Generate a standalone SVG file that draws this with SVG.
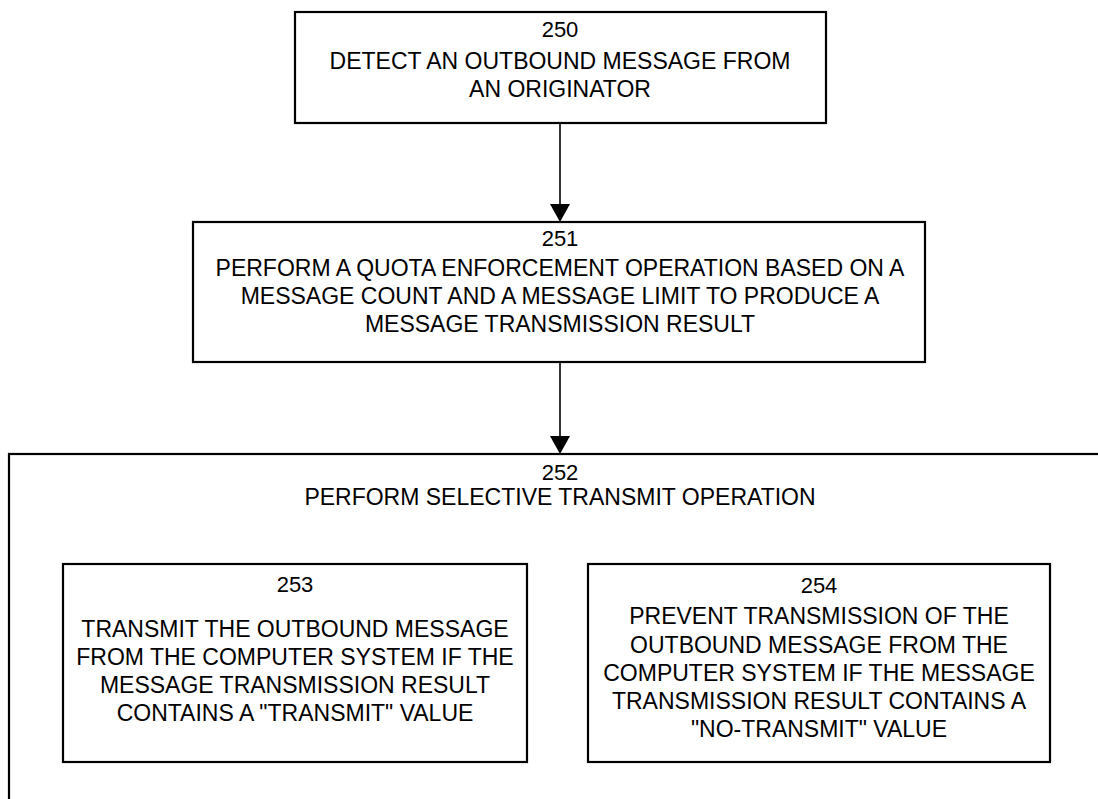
<svg xmlns="http://www.w3.org/2000/svg" width="1098" height="799" viewBox="0 0 1098 799">
<defs>
<style>
.box{fill:none;stroke:#000;stroke-width:2.2}
.t{font-family:"Liberation Sans",Arial,sans-serif;font-size:23px;fill:#000;text-anchor:middle}
.n{font-family:"Liberation Sans",Arial,sans-serif;font-size:22px;fill:#000;text-anchor:middle}
.c{stroke:#000;stroke-width:1.6;fill:none}
</style>
<marker id="ah" viewBox="0 0 18 20" refX="18" refY="10" markerWidth="18" markerHeight="20" markerUnits="userSpaceOnUse" orient="auto">
<path d="M0,0 L18,10 L0,20 Z" fill="#000"/>
</marker>
</defs>
<rect width="1098" height="799" fill="#fff"/>
<g id="n252">
<rect class="box" x="9" y="454" width="1110" height="400"/>
<text class="n" x="560" y="480">252</text>
<text class="t" x="560" y="505">PERFORM SELECTIVE TRANSMIT OPERATION</text>
</g>
<g id="n250">
<rect class="box" x="295" y="12" width="531" height="111"/>
<text class="n" x="560" y="37">250</text>
<text class="t" x="560" y="69">DETECT AN OUTBOUND MESSAGE FROM</text>
<text class="t" x="560" y="97">AN ORIGINATOR</text>
</g>
<g id="n251">
<rect class="box" x="193" y="222" width="732" height="140"/>
<text class="n" x="560" y="246">251</text>
<text class="t" x="560" y="276">PERFORM A QUOTA ENFORCEMENT OPERATION BASED ON A</text>
<text class="t" x="560" y="304">MESSAGE COUNT AND A MESSAGE LIMIT TO PRODUCE A</text>
<text class="t" x="560" y="332">MESSAGE TRANSMISSION RESULT</text>
</g>
<g id="n253">
<rect class="box" x="63" y="564" width="464" height="198"/>
<text class="n" x="295" y="592">253</text>
<text class="t" x="295" y="637">TRANSMIT THE OUTBOUND MESSAGE</text>
<text class="t" x="295" y="665">FROM THE COMPUTER SYSTEM IF THE</text>
<text class="t" x="295" y="693">MESSAGE TRANSMISSION RESULT</text>
<text class="t" x="295" y="721">CONTAINS A "TRANSMIT" VALUE</text>
</g>
<g id="n254">
<rect class="box" x="588" y="564" width="462" height="198"/>
<text class="n" x="819" y="593">254</text>
<text class="t" x="819" y="624">PREVENT TRANSMISSION OF THE</text>
<text class="t" x="819" y="653">OUTBOUND MESSAGE FROM THE</text>
<text class="t" x="819" y="681">COMPUTER SYSTEM IF THE MESSAGE</text>
<text class="t" x="819" y="709">TRANSMISSION RESULT CONTAINS A</text>
<text class="t" x="819" y="737">"NO-TRANSMIT" VALUE</text>
</g>
<g id="connectors">
<line class="c" x1="560" y1="123" x2="560" y2="222" marker-end="url(#ah)"/>
<line class="c" x1="560" y1="362" x2="560" y2="454" marker-end="url(#ah)"/>
</g>
</svg>
